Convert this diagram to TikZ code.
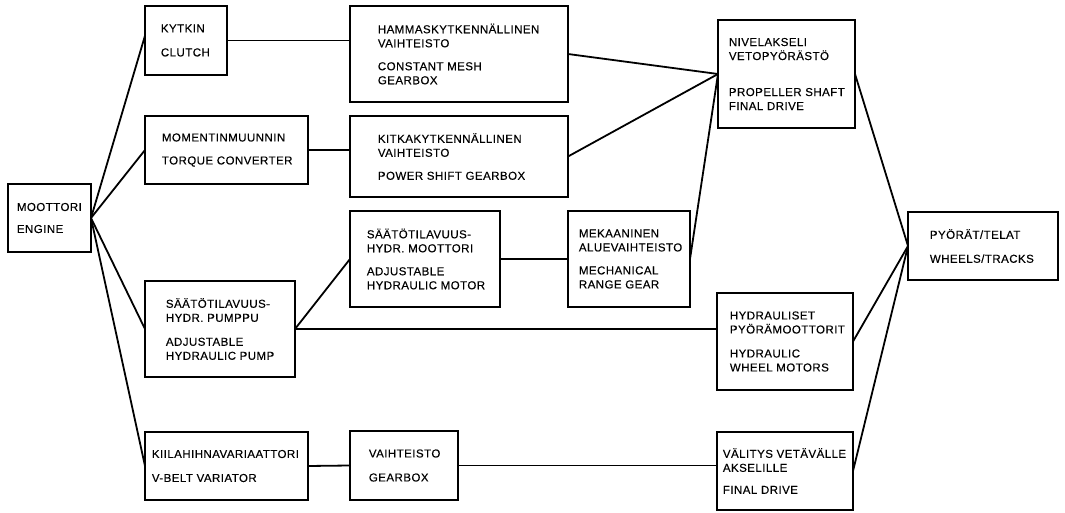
\documentclass[tikz,border=0pt]{standalone}
\usepackage{fontspec}
\setmainfont{Liberation Sans}[LetterSpace=4,FakeBold=0.3]
\usetikzlibrary{calc}
\begin{document}
\begin{tikzpicture}[x=1bp,y=-1bp,line width=1.8bp,
  box/.style={draw,inner sep=0pt,outer sep=0pt,anchor=north west},
  txt/.style={anchor=west,align=left,inner sep=0pt,font=\fontsize{11.5bp}{14bp}\selectfont},
  link/.style={draw,line width=1.8bp}]
\useasboundingbox (0,0) rectangle (1065,513);
% boxes
\node[box,minimum width=83bp,minimum height=68bp]  (eng)  at (8,184)   {};
\node[box,minimum width=82bp,minimum height=69bp]  (clu)  at (145,6)   {};
\node[box,minimum width=218bp,minimum height=96bp] (cmg)  at (350,6)   {};
\node[box,minimum width=163bp,minimum height=68bp] (tc)   at (145,116) {};
\node[box,minimum width=218bp,minimum height=81bp] (psg)  at (350,116) {};
\node[box,minimum width=150bp,minimum height=96bp] (mot)  at (350,211) {};
\node[box,minimum width=122bp,minimum height=96bp] (rng)  at (568,211) {};
\node[box,minimum width=150bp,minimum height=96bp] (pmp)  at (145,281) {};
\node[box,minimum width=163bp,minimum height=68bp] (vb)   at (145,432) {};
\node[box,minimum width=108bp,minimum height=69bp] (gb)   at (350,431) {};
\node[box,minimum width=137bp,minimum height=108bp] (prop) at (718,20)  {};
\node[box,minimum width=136bp,minimum height=97bp] (hwm)  at (717,293) {};
\node[box,minimum width=136bp,minimum height=78bp] (fd)   at (717,432) {};
\node[box,minimum width=150bp,minimum height=68bp] (whl)  at (908,212) {};
% texts
\node[txt] (engt)  at ($(eng.west)+(8,0)$)   {MOOTTORI\\[8bp]ENGINE};
\node[txt] (clut)  at ($(clu.west)+(15,0)$)  {KYTKIN\\[10bp]CLUTCH};
\node[txt] (cmgt)  at ($(cmg.west)+(27,0)$)  {HAMMASKYTKENNÄLLINEN\\VAIHTEISTO\\[9bp]CONSTANT MESH\\GEARBOX};
\node[txt] (tct)   at ($(tc.west)+(16,0)$)   {MOMENTINMUUNNIN\\[9bp]TORQUE CONVERTER};
\node[txt] (psgt)  at ($(psg.west)+(27,0)$)  {KITKAKYTKENNÄLLINEN\\VAIHTEISTO\\[9bp]POWER SHIFT GEARBOX};
\node[txt] (mott)  at ($(mot.west)+(16,0)$)  {SÄÄTÖTILAVUUS-\\HYDR. MOOTTORI\\[9bp]ADJUSTABLE\\HYDRAULIC MOTOR};
\node[txt] (rngt)  at ($(rng.west)+(10,0)$)  {MEKAANINEN\\ALUEVAIHTEISTO\\[9bp]MECHANICAL\\RANGE GEAR};
\node[txt] (pmpt)  at ($(pmp.west)+(20,0)$)  {SÄÄTÖTILAVUUS-\\HYDR. PUMPPU\\[10bp]ADJUSTABLE\\HYDRAULIC PUMP};
\node[txt] (vbt)   at ($(vb.west)+(6,0)$)    {KIILAHIHNAVARIAATTORI\\[10bp]V-BELT VARIATOR};
\node[txt] (gbt)   at ($(gb.west)+(18,0)$)   {VAIHTEISTO\\[10bp]GEARBOX};
\node[txt] (propt) at ($(prop.west)+(10,0)$) {NIVELAKSELI\\VETOPYÖRÄSTÖ\\[22bp]PROPELLER SHAFT\\FINAL DRIVE};
\node[txt] (hwmt)  at ($(hwm.west)+(12,0)$)  {HYDRAULISET\\PYÖRÄMOOTTORIT\\[10bp]HYDRAULIC\\WHEEL MOTORS};
\node[txt] (fdt)   at ($(fd.west)+(5,0)$)    {VÄLITYS VETÄVÄLLE\\AKSELILLE\\[8bp]FINAL DRIVE};
\node[txt] (whlt)  at ($(whl.west)+(21,0)$)  {PYÖRÄT/TELAT\\[10bp]WHEELS/TRACKS};
% connectors
\draw[link] (eng.east) -- ($(clu.north west)!0.43!(clu.south west)$);
\draw[link] (eng.east) -- (tc.west);
\draw[link] (eng.east) -- (pmp.west);
\draw[link] (eng.east) -- (vb.west);
\draw[link] (clu.east) -- (clu.east -| cmg.west);
\draw[link] (tc.east) -- (tc.east -| psg.west);
\draw[link] (cmg.east) -- (prop.west);
\draw[link] (psg.east) -- (prop.west);
\draw[link] (rng.east) -- (prop.west);
\draw[link] (mot.east) -- (rng.west);
\draw[link] (pmp.east) -- (mot.west);
\draw[link] (pmp.east) -- (pmp.east -| hwm.west);
\draw[link] (vb.east) -- (gb.west);
\draw[link] (gb.east) -- (gb.east -| fd.west);
\draw[link] (prop.east) -- (whl.west);
\draw[link] (hwm.east) -- (whl.west);
\draw[link] (fd.east) -- (whl.west);
\end{tikzpicture}
\end{document}
